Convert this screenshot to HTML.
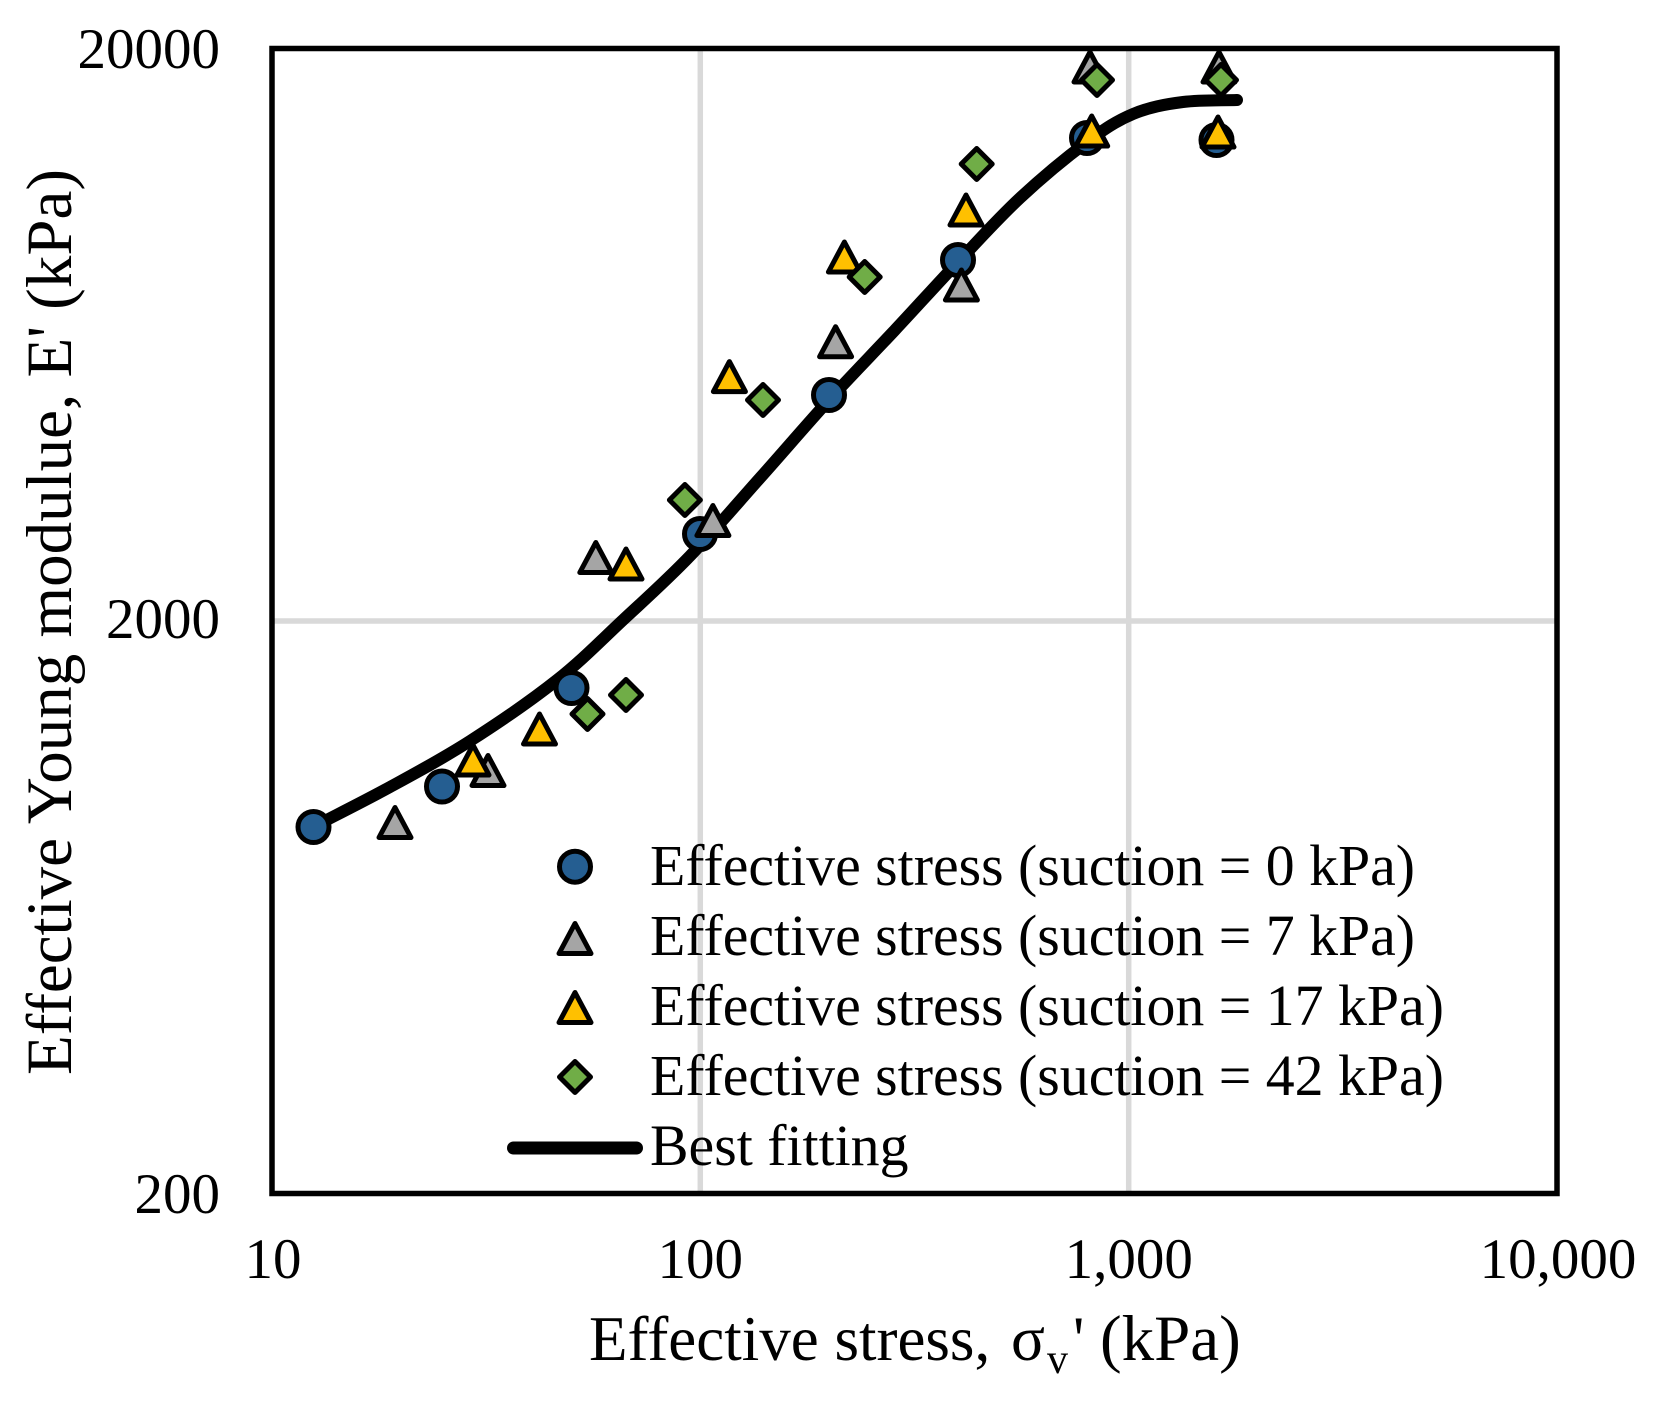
<!DOCTYPE html>
<html>
<head>
<meta charset="utf-8">
<style>
  html, body { margin:0; padding:0; background:#fff; }
  svg { display:block; }
  text { font-family: "Liberation Serif", "Times New Roman", serif; fill:#000; }
</style>
</head>
<body>
<svg width="1660" height="1406" viewBox="0 0 1660 1406" xmlns="http://www.w3.org/2000/svg">
  <rect x="0" y="0" width="1660" height="1406" fill="#fff"/>

  <!-- gridlines -->
  <g stroke="#D9D9D9" stroke-width="5.5">
    <line x1="700.3" y1="48.5" x2="700.3" y2="1193.5"/>
    <line x1="1128.7" y1="48.5" x2="1128.7" y2="1193.5"/>
    <line x1="272" y1="621" x2="1557" y2="621"/>
  </g>

  <!-- best fitting curve -->
  <path d="M313,827 C338.7,813.7 363.8,801.3 390,787
           C416.2,772.7 442.2,758.8 470,741
           C497.8,723.2 531.5,700.2 557,680
           C582.5,659.8 600.8,640.7 623,620
           C645.2,599.3 667.2,579.7 690,556
           C712.8,532.3 736.8,504 760,478
           C783.2,452 806.5,424.7 829,400
           C851.5,375.3 873.5,353 895,330
           C916.5,307 937.2,284 958,262
           C978.8,240 998.5,218 1020,198
           C1041.5,178 1068.2,156 1087,142
           C1105.8,128 1117,120.7 1133,114
           C1149,107.3 1164.7,104.3 1183,102
           C1201.3,99.7 1220,100.5 1237,100"
        fill="none" stroke="#000" stroke-width="12" stroke-linecap="round" stroke-linejoin="round"/>

  <!-- series: suction = 0 kPa (blue circles) -->
  <g fill="#255E91" stroke="#000" stroke-width="5">
    <circle cx="313.5" cy="827" r="15.5"/>
    <circle cx="442" cy="786.5" r="15.5"/>
    <circle cx="571.5" cy="688" r="15.5"/>
    <circle cx="700" cy="534" r="15.5"/>
    <circle cx="829" cy="395" r="15.5"/>
    <circle cx="958" cy="260" r="15.5"/>
    <circle cx="1087" cy="138" r="15.5"/>
    <circle cx="1216.5" cy="140" r="15.5"/>
  </g>

  <!-- series: suction = 7 kPa (gray triangles) -->
  <g fill="#A5A5A5" stroke="#000" stroke-width="5" stroke-linejoin="round">
    <polygon transform="translate(395,822.5)" points="0,-15 16,15 -16,15"/>
    <polygon transform="translate(488,770.5)" points="0,-15 16,15 -16,15"/>
    <polygon transform="translate(595.8,557.5)" points="0,-15 16,15 -16,15"/>
    <polygon transform="translate(712.9,520.5)" points="0,-15 16,15 -16,15"/>
    <polygon transform="translate(835.6,341.7)" points="0,-15 16,15 -16,15"/>
    <polygon transform="translate(961.4,285)" points="0,-15 16,15 -16,15"/>
    <polygon transform="translate(1090,67)" points="0,-15 16,15 -16,15"/>
    <polygon transform="translate(1219,67)" points="0,-15 16,15 -16,15"/>
  </g>

  <!-- series: suction = 17 kPa (yellow triangles) -->
  <g fill="#FFC000" stroke="#000" stroke-width="5" stroke-linejoin="round">
    <polygon transform="translate(473,760)" points="0,-15 16,15 -16,15"/>
    <polygon transform="translate(539.5,729)" points="0,-15 16,15 -16,15"/>
    <polygon transform="translate(626,564)" points="0,-15 16,15 -16,15"/>
    <polygon transform="translate(729.4,376.6)" points="0,-15 16,15 -16,15"/>
    <polygon transform="translate(844.4,257)" points="0,-15 16,15 -16,15"/>
    <polygon transform="translate(966,210)" points="0,-15 16,15 -16,15"/>
    <polygon transform="translate(1091.7,131)" points="0,-15 16,15 -16,15"/>
    <polygon transform="translate(1218,132)" points="0,-15 16,15 -16,15"/>
  </g>

  <!-- series: suction = 42 kPa (green diamonds) -->
  <g fill="#70AD47" stroke="#000" stroke-width="5" stroke-linejoin="round">
    <polygon transform="translate(587.5,714)" points="0,-15.5 15.5,0 0,15.5 -15.5,0"/>
    <polygon transform="translate(626,695)" points="0,-15.5 15.5,0 0,15.5 -15.5,0"/>
    <polygon transform="translate(684.9,500)" points="0,-15.5 15.5,0 0,15.5 -15.5,0"/>
    <polygon transform="translate(763,400)" points="0,-15.5 15.5,0 0,15.5 -15.5,0"/>
    <polygon transform="translate(864.7,277)" points="0,-15.5 15.5,0 0,15.5 -15.5,0"/>
    <polygon transform="translate(976.7,164)" points="0,-15.5 15.5,0 0,15.5 -15.5,0"/>
    <polygon transform="translate(1097,80)" points="0,-15.5 15.5,0 0,15.5 -15.5,0"/>
    <polygon transform="translate(1221,80)" points="0,-15.5 15.5,0 0,15.5 -15.5,0"/>
  </g>

  <!-- plot border -->
  <rect x="272" y="48.5" width="1285" height="1145" fill="none" stroke="#000" stroke-width="5.5"/>

  <!-- legend -->
  <circle cx="575" cy="866.7" r="15.5" fill="#255E91" stroke="#000" stroke-width="5"/>
  <polygon transform="translate(575,938.5)" points="0,-15 16,15 -16,15" fill="#A5A5A5" stroke="#000" stroke-width="5" stroke-linejoin="round"/>
  <polygon transform="translate(575,1007.5)" points="0,-15 16,15 -16,15" fill="#FFC000" stroke="#000" stroke-width="5" stroke-linejoin="round"/>
  <polygon transform="translate(575,1077)" points="0,-15.5 15.5,0 0,15.5 -15.5,0" fill="#70AD47" stroke="#000" stroke-width="5" stroke-linejoin="round"/>
  <line x1="513.5" y1="1148" x2="636.5" y2="1148" stroke="#000" stroke-width="13" stroke-linecap="round"/>
  <g font-size="57.8">
    <text x="650" y="885">Effective stress (suction = 0 kPa)</text>
    <text x="650" y="955">Effective stress (suction = 7 kPa)</text>
    <text x="650" y="1025">Effective stress (suction = 17 kPa)</text>
    <text x="650" y="1095">Effective stress (suction = 42 kPa)</text>
    <text x="650" y="1165">Best fitting</text>
  </g>

  <!-- y tick labels -->
  <g font-size="57" text-anchor="end">
    <text x="220" y="68">20000</text>
    <text x="220" y="638">2000</text>
    <text x="220" y="1213">200</text>
  </g>

  <!-- x tick labels -->
  <g font-size="57" text-anchor="middle">
    <text x="273" y="1278">10</text>
    <text x="700.3" y="1278">100</text>
    <text x="1128.7" y="1278">1,000</text>
    <text x="1558" y="1278">10,000</text>
  </g>

  <!-- x axis title -->
  <text y="1360" font-size="63"><tspan x="589">Effective stress,</tspan><tspan x="1011">σ</tspan><tspan x="1047" y="1373" font-size="42">v</tspan><tspan x="1073" y="1360">'</tspan><tspan x="1100" font-size="65">(kPa)</tspan></text>

  <!-- y axis title -->
  <text transform="translate(71,622) rotate(-90)" text-anchor="middle" font-size="65">Effective Young modulue, E' (kPa)</text>
</svg>
</body>
</html>
